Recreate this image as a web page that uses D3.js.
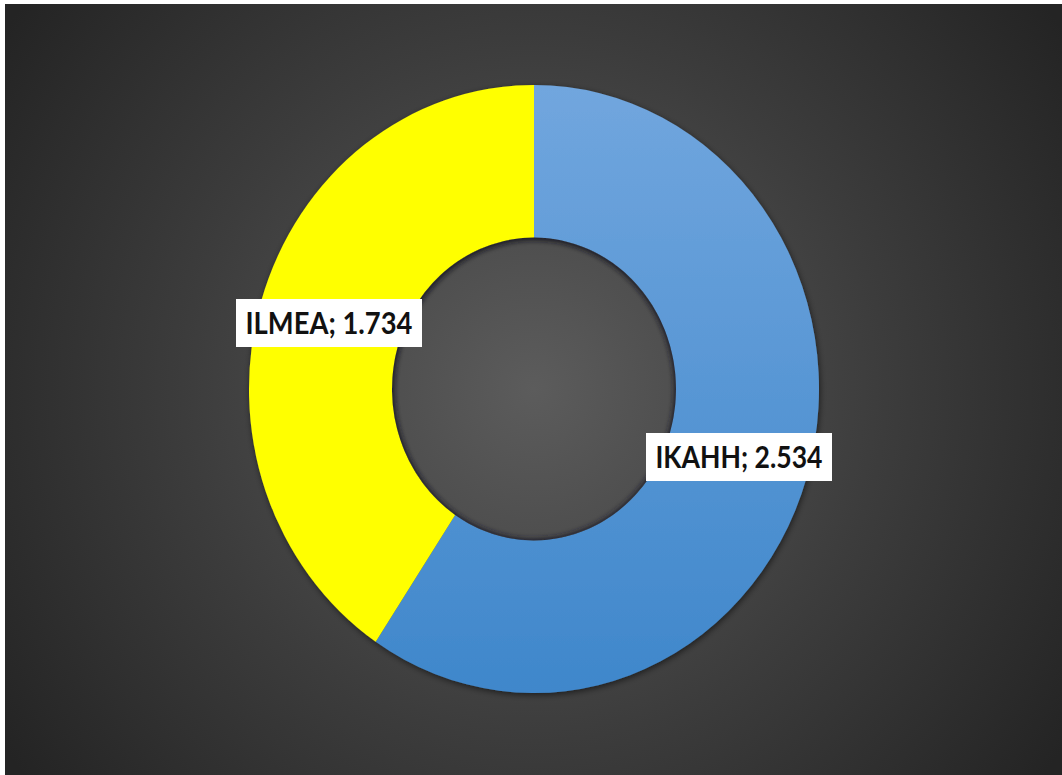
<!DOCTYPE html>
<html>
<head>
<meta charset="utf-8">
<script src="https://cdn.jsdelivr.net/npm/d3@7"></script>
<style>
html,body{margin:0;padding:0;background:#fff;}
svg{display:block;}
</style>
</head>
<body>
<svg id="chart" width="1062" height="775"></svg>
<script>
const categories = ["IKAHH", "ILMEA"];
const values = [2.534, 1.734];
const labelTexts = ["IKAHH; 2.534", "ILMEA; 1.734"];
const colors = ["url(#blueGrad)", "#ffff00"];

const W = 1062, H = 775;
const svg = d3.select("#chart");
const defs = svg.append("defs");

const bg = defs.append("radialGradient").attr("id", "bgGrad")
  .attr("gradientUnits", "userSpaceOnUse")
  .attr("cx", 534).attr("cy", 389).attr("r", 640);
bg.append("stop").attr("offset", "0%").attr("stop-color", "#5c5c5c");
bg.append("stop").attr("offset", "55%").attr("stop-color", "#3c3c3c");
bg.append("stop").attr("offset", "100%").attr("stop-color", "#242424");

const bl = defs.append("linearGradient").attr("id", "blueGrad")
  .attr("gradientUnits", "userSpaceOnUse")
  .attr("x1", 0).attr("y1", -285).attr("x2", 0).attr("y2", 285);
bl.append("stop").attr("offset", "0%").attr("stop-color", "#71a6de");
bl.append("stop").attr("offset", "100%").attr("stop-color", "#3f87cb");

const sh = defs.append("filter").attr("id", "shadow")
  .attr("x", "-20%").attr("y", "-20%").attr("width", "140%").attr("height", "140%");
sh.append("feGaussianBlur").attr("in", "SourceAlpha").attr("stdDeviation", 3).attr("result", "b");
sh.append("feOffset").attr("in", "b").attr("dx", 1).attr("dy", 2).attr("result", "o");
sh.append("feComponentTransfer").attr("in", "o").attr("result", "o2")
  .append("feFuncA").attr("type", "linear").attr("slope", 0.55);
const m = sh.append("feMerge");
m.append("feMergeNode").attr("in", "o2");
m.append("feMergeNode").attr("in", "SourceGraphic");

const blur = defs.append("filter").attr("id", "blur")
  .attr("x", "-20%").attr("y", "-20%").attr("width", "140%").attr("height", "140%");
blur.append("feGaussianBlur").attr("stdDeviation", 2.5);

svg.append("rect").attr("x", 5).attr("y", 4).attr("width", W - 5).attr("height", H - 4)
  .attr("fill", "url(#bgGrad)");

const cx = 534, cy = 389, rOuter = 285, rInner = 142, sy = 304 / 285;

const pie = d3.pie().sort(null).value(d => d)(values);
const arc = d3.arc().innerRadius(rInner).outerRadius(rOuter);

const g = svg.append("g").attr("transform", `translate(${cx},${cy}) scale(1,${sy})`);
g.append("g").attr("filter", "url(#shadow)")
  .selectAll("path").data(pie).join("path")
  .attr("d", arc).attr("fill", (d, i) => colors[i]);

const clipId = "holeClip";
defs.append("clipPath").attr("id", clipId)
  .append("circle").attr("cx", 0).attr("cy", 0).attr("r", rInner);
g.append("circle").attr("r", rInner + 1).attr("fill", "none")
  .attr("stroke", "#1e1e2a").attr("stroke-opacity", 0.7).attr("stroke-width", 6)
  .attr("clip-path", `url(#${clipId})`).attr("filter", "url(#blur)");

const labelPos = [
  { x: 739, y: 457 },
  { x: 329, y: 323 }
];
const lg = svg.append("g");
labelTexts.forEach((t, i) => {
  const p = labelPos[i];
  const grp = lg.append("g");
  grp.append("rect").attr("fill", "#ffffff")
    .attr("x", p.x - 93).attr("y", p.y - 24).attr("width", 186).attr("height", 48);
  grp.append("text")
    .attr("x", p.x).attr("y", p.y + 11)
    .attr("text-anchor", "middle")
    .attr("font-family", "Lato, 'Open Sans', sans-serif")
    .attr("font-weight", "bold").attr("font-size", 31)
    .attr("textLength", 167).attr("lengthAdjust", "spacingAndGlyphs")
    .attr("fill", "#111").text(t);
});
</script>
</body>
</html>
